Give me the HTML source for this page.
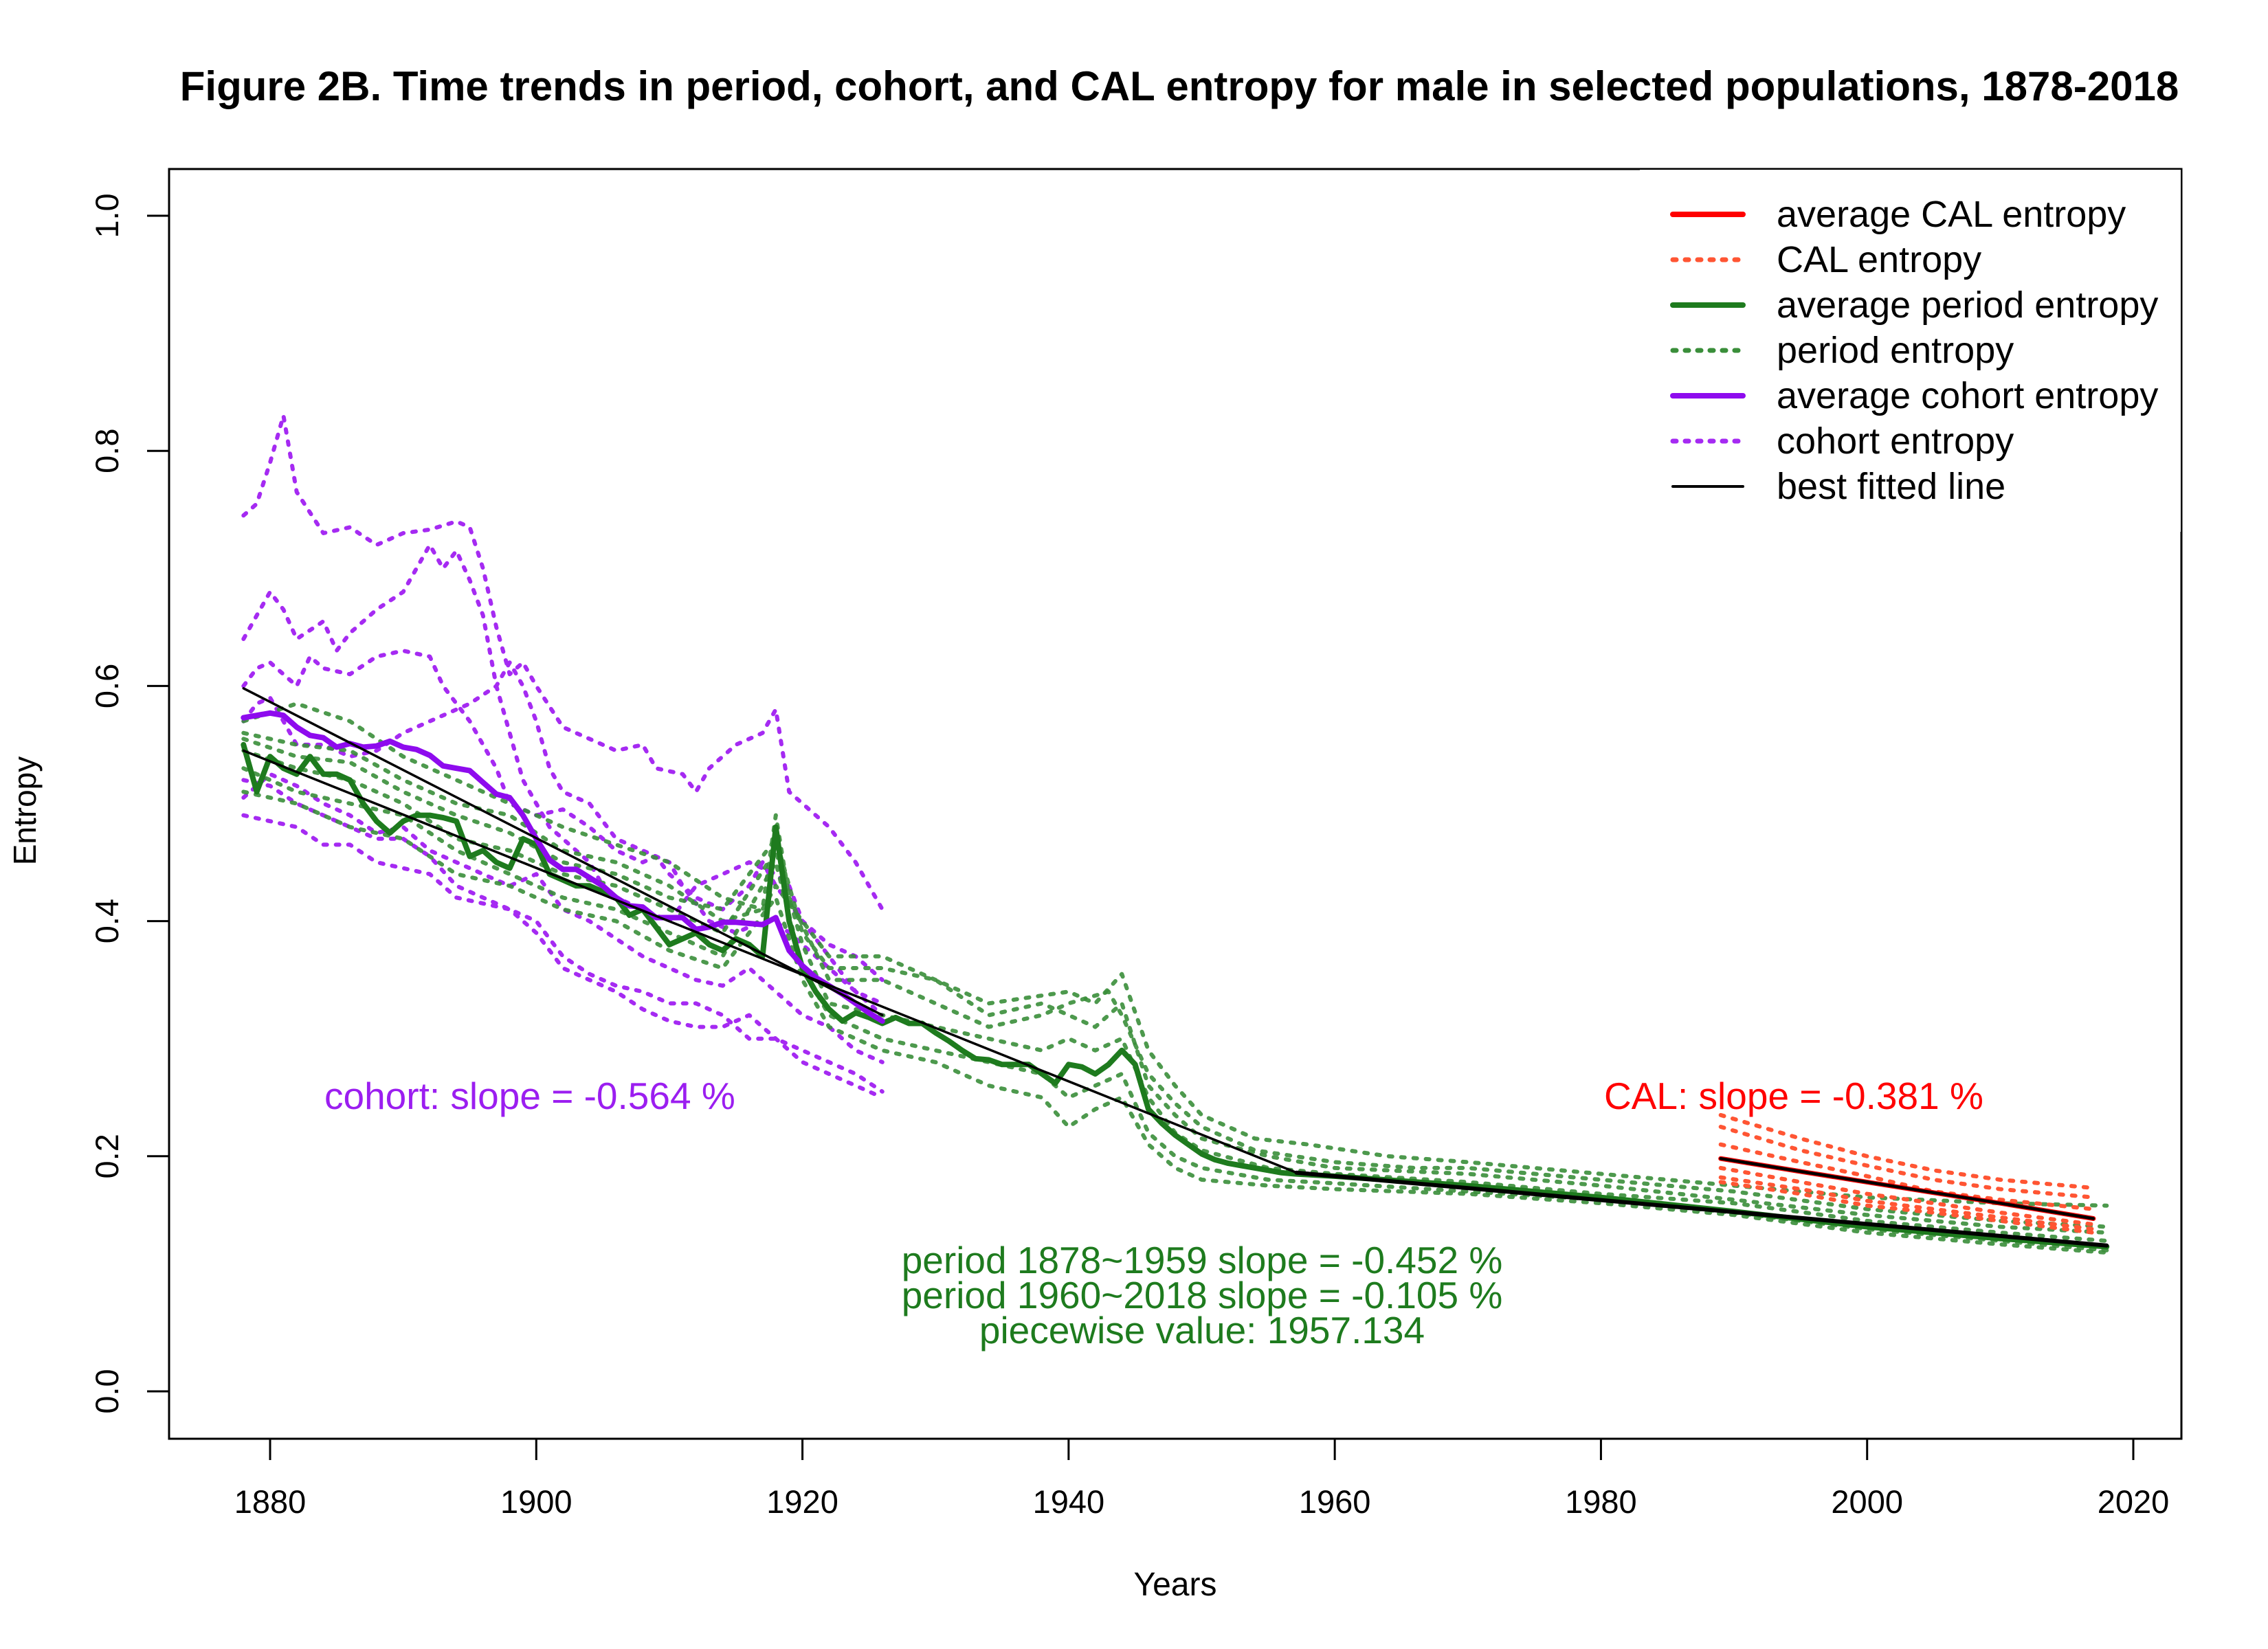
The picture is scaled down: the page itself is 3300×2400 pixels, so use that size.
<!DOCTYPE html>
<html><head><meta charset="utf-8"><style>
html,body{margin:0;padding:0;background:#fff}
svg{display:block}
text{font-family:"Liberation Sans",Arial,sans-serif}
</style></head><body>
<svg id="chart" width="3300" height="2400" viewBox="0 0 3300 2400" xmlns="http://www.w3.org/2000/svg">
<rect width="3300" height="2400" fill="#fff"/>
<text x="1716" y="146" font-size="60" font-weight="bold" text-anchor="middle">Figure 2B. Time trends in period, cohort, and CAL entropy for male in selected populations, 1878-2018</text>
<defs><clipPath id="pc"><rect x="246" y="246" width="2928" height="1848"/></clipPath></defs>
<g id="series" clip-path="url(#pc)"></g>
<g id="axes"></g>
<g id="legend">
<rect x="2386" y="246" width="788" height="528" fill="#fff"/>
<line x1="2386" y1="246" x2="3174" y2="246" stroke="#000" stroke-width="2"/>
<line x1="3174" y1="246" x2="3174" y2="774" stroke="#000" stroke-width="2"/>
</g>
<text x="0" y="0" transform="translate(52,1180) rotate(-90)" font-size="46" text-anchor="middle">Entropy</text>
<text x="1710" y="2322" font-size="48" text-anchor="middle">Years</text>
<text x="472" y="1614" font-size="55" fill="#9B1EF0">cohort:  slope = -0.564  %</text>
<text x="2334" y="1614" font-size="55" fill="#FF0000">CAL:  slope = -0.381  %</text>
<text x="1749" y="1853" font-size="55" fill="#1E7B1E" text-anchor="middle">period 1878~1959  slope = -0.452  %</text>
<text x="1749" y="1904" font-size="55" fill="#1E7B1E" text-anchor="middle">period 1960~2018  slope = -0.105  %</text>
<text x="1749" y="1955" font-size="55" fill="#1E7B1E" text-anchor="middle">piecewise value: 1957.134</text>
</svg>
<script>
const xTicks=[1880,1900,1920,1940,1960,1980,2000,2020];
const yTicks=[0,0.2,0.4,0.6,0.8,1.0];
const yTickLabels=["0.0","0.2","0.4","0.6","0.8","1.0"];
const periodYears=[1878,1879,1880,1881,1882,1883,1884,1885,1886,1887,1888,1889,1890,1891,1892,1893,1894,1895,1896,1897,1898,1899,1900,1901,1902,1903,1904,1905,1906,1907,1908,1909,1910,1911,1912,1913,1914,1915,1916,1917,1918,1919,1920,1921,1922,1923,1924,1925,1926,1927,1928,1929,1930,1931,1932,1933,1934,1935,1936,1937,1938,1939,1940,1941,1942,1943,1944,1945,1946,1947,1948,1949,1950,1951,1952,1953,1954,1955,1956,1957,1960,1970,1980,1990,2000,2010,2018];
const periodAvg=[0.55,0.51,0.54,0.53,0.525,0.54,0.525,0.525,0.52,0.50,0.485,0.475,0.485,0.49,0.49,0.488,0.485,0.455,0.46,0.45,0.445,0.47,0.465,0.44,0.435,0.43,0.43,0.425,0.42,0.405,0.41,0.395,0.38,0.385,0.39,0.38,0.375,0.385,0.38,0.37,0.48,0.40,0.36,0.34,0.325,0.315,0.322,0.318,0.313,0.318,0.313,0.313,0.305,0.298,0.29,0.283,0.282,0.278,0.278,0.278,0.27,0.262,0.278,0.276,0.27,0.278,0.29,0.278,0.24,0.228,0.218,0.21,0.202,0.197,0.194,0.192,0.19,0.188,0.186,0.185,0.183,0.175,0.165,0.153,0.14,0.13,0.123];
const cohortYears=[1878,1879,1880,1881,1882,1883,1884,1885,1886,1887,1888,1889,1890,1891,1892,1893,1894,1895,1896,1897,1898,1899,1900,1901,1902,1903,1904,1905,1906,1907,1908,1909,1910,1911,1912,1913,1914,1915,1916,1917,1918,1919,1920,1921,1922,1923,1924,1925,1926];
const cohortAvg=[0.573,0.575,0.577,0.575,0.565,0.558,0.556,0.548,0.551,0.548,0.549,0.553,0.548,0.546,0.541,0.532,0.53,0.528,0.518,0.508,0.505,0.49,0.47,0.452,0.444,0.444,0.437,0.43,0.42,0.413,0.412,0.403,0.403,0.403,0.393,0.395,0.399,0.399,0.398,0.397,0.403,0.375,0.362,0.352,0.345,0.338,0.33,0.322,0.315];
const calYears=[1989,1995,2000,2005,2010,2017];
const calAvg=[0.198,0.187,0.178,0.169,0.16,0.147];
const periodFitYears=[1878,1957.134,2018];
const periodFitVals=[0.545,0.186,0.124];
const cohortFitYears=[1878,1926];
const cohortFitVals=[0.598,0.32];
const c1Years=[1878,1879,1880,1881,1882,1884,1886,1888,1890,1892,1894,1895,1896,1897,1898,1899,1900,1902,1904,1906,1908,1909,1911,1912,1913,1915,1917,1918,1919,1920,1922,1924,1926];
const c1Vals=[0.745,0.755,0.79,0.83,0.765,0.73,0.735,0.72,0.73,0.733,0.74,0.735,0.70,0.65,0.61,0.62,0.60,0.565,0.555,0.545,0.55,0.53,0.525,0.51,0.53,0.55,0.56,0.58,0.51,0.5,0.48,0.45,0.41];
const c2Years=[1878,1879,1880,1881,1882,1884,1885,1886,1888,1890,1891,1892,1893,1894,1895,1896,1897,1898,1899,1900,1901,1902,1904,1905,1906,1908,1910,1912,1914,1916,1918,1919,1920,1922,1924,1926];
const c2Vals=[0.64,0.66,0.68,0.665,0.64,0.655,0.63,0.645,0.665,0.68,0.70,0.72,0.70,0.715,0.69,0.66,0.60,0.56,0.52,0.50,0.48,0.47,0.45,0.43,0.42,0.41,0.40,0.43,0.44,0.45,0.44,0.43,0.40,0.38,0.37,0.35];
const c3Years=[1878,1879,1880,1882,1883,1884,1886,1888,1890,1892,1893,1895,1897,1898,1900,1902,1904,1906,1908,1909,1910,1912,1914,1916,1917,1918,1920,1922,1924,1926];
const c3Vals=[0.60,0.615,0.62,0.6,0.625,0.615,0.61,0.625,0.63,0.625,0.60,0.57,0.53,0.50,0.49,0.495,0.48,0.46,0.45,0.455,0.44,0.42,0.41,0.43,0.45,0.43,0.40,0.37,0.34,0.32];
const c4Years=[1878,1879,1880,1881,1882,1884,1886,1888,1890,1892,1894,1895,1897,1898,1899,1900,1901,1902,1904,1906,1908,1910,1911,1913,1915,1917,1918,1920,1922,1924,1926];
const c4Vals=[0.57,0.585,0.59,0.57,0.55,0.55,0.54,0.545,0.56,0.57,0.58,0.585,0.6,0.62,0.60,0.57,0.53,0.51,0.5,0.47,0.46,0.45,0.43,0.4,0.39,0.40,0.40,0.38,0.36,0.34,0.33];
const c5Years=[1878,1880,1882,1884,1886,1888,1890,1892,1894,1896,1898,1900,1902,1904,1906,1908,1910,1912,1914,1916,1918,1920,1922,1924,1926];
const c5Vals=[0.52,0.515,0.50,0.49,0.48,0.47,0.47,0.455,0.43,0.42,0.41,0.40,0.37,0.355,0.345,0.34,0.33,0.33,0.32,0.30,0.30,0.29,0.28,0.27,0.255];
const c6Vals=[0.49,0.485,0.48,0.465,0.465,0.45,0.445,0.44,0.42,0.415,0.41,0.39,0.36,0.35,0.34,0.325,0.315,0.31,0.31,0.32,0.30,0.28,0.27,0.26,0.25];
const c7Vals=[0.505,0.525,0.515,0.5,0.49,0.475,0.48,0.46,0.45,0.44,0.43,0.44,0.41,0.40,0.385,0.37,0.36,0.35,0.345,0.36,0.34,0.32,0.31,0.29,0.28];
const p1Years=[1878,1882,1886,1890,1894,1898,1902,1906,1910,1914,1917,1918,1920,1922,1926,1930,1934,1937,1940,1942,1944,1946,1948,1950,1954,1958,1964,1970,1980,1990,2000,2010,2018];
const p1Vals=[0.57,0.585,0.57,0.54,0.52,0.50,0.48,0.465,0.45,0.42,0.41,0.43,0.40,0.37,0.37,0.35,0.33,0.335,0.34,0.33,0.355,0.29,0.26,0.235,0.215,0.21,0.20,0.195,0.185,0.175,0.165,0.16,0.158];
const p2Years=[1878,1882,1886,1890,1894,1898,1902,1906,1910,1914,1917,1918,1919,1922,1926,1930,1934,1938,1940,1943,1944,1946,1948,1950,1954,1960,1966,1970,1980,1990,2000,2010,2018];
const p2Vals=[0.56,0.55,0.545,0.52,0.50,0.49,0.46,0.45,0.43,0.40,0.41,0.49,0.42,0.35,0.35,0.33,0.31,0.32,0.33,0.34,0.32,0.27,0.245,0.225,0.205,0.195,0.19,0.19,0.18,0.17,0.155,0.145,0.14];
const p3Years=[1878,1882,1886,1890,1894,1898,1902,1906,1910,1914,1918,1920,1922,1926,1930,1934,1938,1940,1942,1944,1946,1948,1950,1955,1960,1970,1980,1990,2000,2010,2018];
const p3Vals=[0.545,0.53,0.52,0.50,0.47,0.46,0.44,0.43,0.41,0.39,0.46,0.38,0.33,0.32,0.31,0.30,0.29,0.30,0.29,0.30,0.25,0.22,0.205,0.19,0.185,0.178,0.168,0.16,0.145,0.135,0.128];
const p4Vals=[0.53,0.51,0.50,0.49,0.46,0.44,0.42,0.41,0.39,0.37,0.45,0.36,0.32,0.30,0.29,0.28,0.27,0.25,0.26,0.27,0.22,0.20,0.19,0.18,0.177,0.17,0.163,0.152,0.138,0.128,0.12];
const p5Vals=[0.51,0.50,0.48,0.47,0.44,0.43,0.41,0.40,0.375,0.36,0.42,0.35,0.31,0.29,0.28,0.26,0.25,0.225,0.24,0.25,0.21,0.19,0.18,0.175,0.172,0.168,0.16,0.15,0.135,0.125,0.118];
const p6Vals=[0.555,0.54,0.535,0.51,0.49,0.475,0.45,0.44,0.42,0.41,0.47,0.39,0.36,0.36,0.35,0.32,0.33,0.32,0.31,0.33,0.26,0.235,0.215,0.2,0.19,0.185,0.175,0.163,0.15,0.14,0.135];
const k1Vals=[0.235,0.215,0.2,0.188,0.18,0.173];
const k2Vals=[0.225,0.205,0.192,0.18,0.172,0.165];
const k3Vals=[0.21,0.195,0.183,0.17,0.163,0.155];
const k4Vals=[0.19,0.178,0.168,0.16,0.152,0.142];
const k5Vals=[0.182,0.172,0.162,0.155,0.148,0.138];
const k6Vals=[0.178,0.168,0.158,0.152,0.145,0.135];

const NS="http://www.w3.org/2000/svg";
function X(yr){return 393+(yr-1880)*(3104-393)/140;}
function Y(v){return 2025-v*(2025-314);}
function mk(tag,parent){const e=document.createElementNS(NS,tag);parent.appendChild(e);return e;}
const S=document.getElementById('series');
function line(xs,vs,color,w,dash,name,op){
  const p=mk('polyline',S);
  p.setAttribute('points',xs.map((x,i)=>X(x).toFixed(1)+','+Y(vs[i]).toFixed(1)).join(' '));
  p.setAttribute('fill','none');p.setAttribute('stroke',color);p.setAttribute('stroke-width',w);
  p.setAttribute('stroke-linejoin','round');p.setAttribute('stroke-linecap','round');
  if(dash)p.setAttribute('stroke-dasharray',dash);
  if(op)p.setAttribute('stroke-opacity',op);
  
  
}
const pd='5,13', gc='#3A8E3A', cc='#A52AF2', kc='#FF5533';
[[c1Years,c1Vals],[c2Years,c2Vals],[c3Years,c3Vals],[c4Years,c4Vals],[c5Years,c5Vals],[c5Years,c6Vals],[c5Years,c7Vals]].forEach((s,i)=>line(s[0],s[1],cc,6,pd,'cohort-entropy-line-'+(i+1)));
[[p1Years,p1Vals],[p2Years,p2Vals],[p3Years,p3Vals],[p3Years,p4Vals],[p3Years,p5Vals],[p3Years,p6Vals]].forEach((s,i)=>line(s[0],s[1],gc,6,pd,'period-entropy-line-'+(i+1),0.9));
[k1Vals,k2Vals,k3Vals,k4Vals,k5Vals,k6Vals].forEach((v,i)=>line(calYears,v,kc,6,pd,'cal-entropy-line-'+(i+1)));
line(periodYears,periodAvg,'#1E7B1E',8,null,'average-period-line');
line(cohortYears,cohortAvg,'#8E0BEE',8,null,'average-cohort-line');
line(calYears,calAvg,'#FF0000',7,null,'average-cal-line');
line(cohortFitYears,cohortFitVals,'#000',3.5,null,'cohort-fitted-line');
line(periodFitYears,periodFitVals,'#000',3.5,null,'period-fitted-line');
line([periodFitYears[1],periodFitYears[2]],[periodFitVals[1],periodFitVals[2]],'#000',6,null,'period-fitted-line-late');
line(calYears,calAvg,'#000',4.5,null,'cal-fitted-line');

const A=document.getElementById('axes');
const box=mk('rect',A);box.setAttribute('x',246);box.setAttribute('y',246);box.setAttribute('width',2928);box.setAttribute('height',1848);box.setAttribute('fill','none');box.setAttribute('stroke','#000');box.setAttribute('stroke-width',3);


xTicks.forEach(t=>{
  const l=mk('line',A);l.setAttribute('x1',X(t));l.setAttribute('x2',X(t));l.setAttribute('y1',2094);l.setAttribute('y2',2125);l.setAttribute('stroke','#000');l.setAttribute('stroke-width',3);
  
  
  const tx=mk('text',A);tx.setAttribute('x',X(t));tx.setAttribute('y',2202);tx.setAttribute('font-size','47');tx.setAttribute('text-anchor','middle');tx.textContent=t;
  
  
});
yTicks.forEach((t,i)=>{
  const l=mk('line',A);l.setAttribute('x1',214);l.setAttribute('x2',246);l.setAttribute('y1',Y(t));l.setAttribute('y2',Y(t));l.setAttribute('stroke','#000');l.setAttribute('stroke-width',3);
  
  
  const tx=mk('text',A);tx.setAttribute('transform','translate(172,'+Y(t)+') rotate(-90)');tx.setAttribute('font-size','47');tx.setAttribute('text-anchor','middle');tx.textContent=yTickLabels[i];
  
  
});
const L=document.getElementById('legend');
const legLabels=["average CAL entropy","CAL entropy","average period entropy","period entropy","average cohort entropy","cohort entropy","best fitted line"];
const legColors=['#FF0000',kc,'#1E7B1E',gc,'#8E0BEE',cc,'#000'];
const legDash=[null,'5,13',null,'5,13',null,'5,13',null];
const legW=[8,7,8,7,8,7,4];
legLabels.forEach((s,i)=>{
  const y=312+i*66;
  const l=mk('line',L);l.setAttribute('x1',2434);l.setAttribute('x2',2536);l.setAttribute('y1',y);l.setAttribute('y2',y);l.setAttribute('stroke',legColors[i]);l.setAttribute('stroke-width',legW[i]);l.setAttribute('stroke-linecap','round');
  if(legDash[i])l.setAttribute('stroke-dasharray',legDash[i]);
  
  
  const t=mk('text',L);t.setAttribute('x',2585);t.setAttribute('y',y+18);t.setAttribute('font-size','54');t.textContent=s;
  
  
});
</script>
</body></html>
